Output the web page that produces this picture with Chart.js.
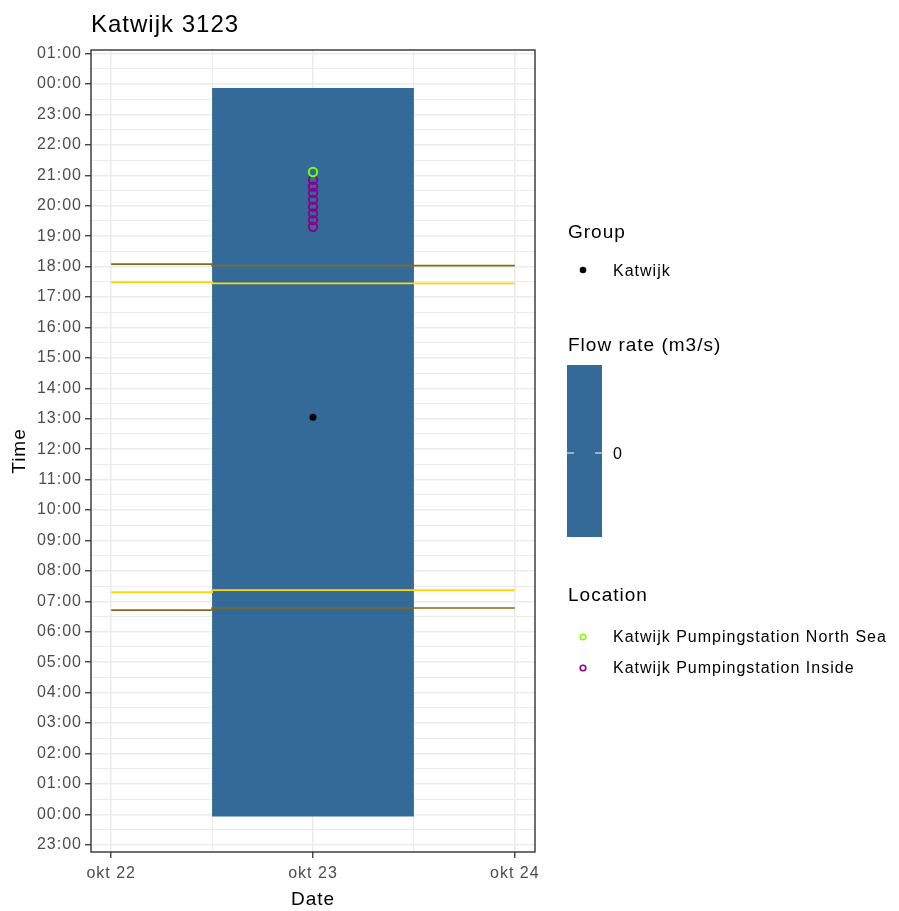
<!DOCTYPE html>
<html>
<head>
<meta charset="utf-8">
<title>Katwijk 3123</title>
<script src="https://cdn.jsdelivr.net/npm/chart.js@4/dist/chart.umd.min.js"></script>
<style>
  body { margin: 0; background: #fff; }
  canvas { display: block; }
</style>
</head>
<body>
<canvas id="timeChart" width="899" height="911"></canvas>
<script>
// day of month (okt) on x, hour of day on y
const xTickDays = [22, 23, 24];
const xTickLabels = ['okt 22', 'okt 23', 'okt 24'];
const yTickLabels = ['23:00', '00:00', '01:00', '02:00', '03:00', '04:00', '05:00', '06:00', '07:00',
    '08:00', '09:00', '10:00', '11:00', '12:00', '13:00', '14:00', '15:00', '16:00', '17:00',
    '18:00', '19:00', '20:00', '21:00', '22:00', '23:00', '00:00', '01:00'];

// flow rate tile (one day, okt 23)
const tileDay = [22.5, 23.5];
const tileHours = [-0.07, 23.87];
const flowRate = [0];

// twilight / sun lines per day
const lineDays = [22, 23, 24];
const dusk = [18.08, 18.03, 18.03];
const sunset = [17.49, 17.45, 17.45];
const sunrise = [7.30, 7.37, 7.37];
const dawn = [6.71, 6.78, 6.78];

// measurement points
const groupNames = ['Katwijk'];
const groupDays = [23];
const groupHours = [13.05];

const locationNames = ['Katwijk Pumpingstation North Sea', 'Katwijk Pumpingstation Inside'];
const locationColors = ['#7FFF00', '#8B008B'];
const northSeaDays = [23];
const northSeaHours = [21.11];
const insideDays = [23, 23, 23, 23, 23, 23, 23, 23];
const insideHours = [20.85, 20.63, 20.42, 20.20, 19.97, 19.75, 19.53, 19.31];

const FONT = "'Liberation Sans', Arial, sans-serif";
const TILE_COLOR = '#336A98';

function points(xs, ys) {
    return xs.map(function (x, i) { return { x: x, y: ys[i] }; });
}

const isMajor = function (ctx) {
    return ctx.tick && Number.isInteger(ctx.tick.value);
};

document.addEventListener('DOMContentLoaded', function () {
    const canvas = document.getElementById('timeChart');
    if (!canvas) return;

    const panelPlugin = {
        id: 'panelStuff',
        beforeDraw(chart) {
            chart.ctx.letterSpacing = '1px';
        },
        afterDraw(chart) {
            const ctx = chart.ctx;
            const a = chart.chartArea;
            ctx.save();
            ctx.strokeStyle = '#333333';
            ctx.lineWidth = 1.4;
            ctx.strokeRect(a.left, a.top, a.right - a.left, a.bottom - a.top);

            // side legends
            ctx.letterSpacing = '1px';
            ctx.textAlign = 'left';
            ctx.textBaseline = 'middle';
            ctx.fillStyle = '#000';
            ctx.font = '19px ' + FONT;
            ctx.fillText('Group', 568, 233);
            ctx.fillText('Flow rate (m3/s)', 568, 346);
            ctx.fillText('Location', 568, 596);

            ctx.font = '16px ' + FONT;
            groupNames.forEach(function (name, i) {
                const y = 270 + i * 30;
                ctx.beginPath();
                ctx.arc(583, y, 3.3, 0, Math.PI * 2);
                ctx.fillStyle = '#000';
                ctx.fill();
                ctx.fillText(name, 613, y + 2);
            });

            // colour bar
            ctx.fillStyle = TILE_COLOR;
            ctx.fillRect(567, 365, 35, 172);
            ctx.strokeStyle = '#ffffff';
            ctx.lineWidth = 1.2;
            ctx.beginPath();
            ctx.moveTo(567, 453); ctx.lineTo(574, 453);
            ctx.moveTo(595, 453); ctx.lineTo(602, 453);
            ctx.stroke();
            ctx.fillStyle = '#000';
            ctx.fillText(String(flowRate[0]), 613, 455);

            locationNames.forEach(function (name, i) {
                const y = 637 + i * 31;
                ctx.beginPath();
                ctx.arc(583, y, 2.8, 0, Math.PI * 2);
                ctx.strokeStyle = locationColors[i];
                ctx.lineWidth = 1.6;
                ctx.stroke();
                ctx.fillStyle = '#000';
                ctx.fillText(name, 613, y + 1);
            });
            ctx.restore();
        }
    };

    new Chart(canvas.getContext('2d'), {
        type: 'line',
        data: {
            datasets: [
                {
                    label: 'tile top',
                    data: points(tileDay, [tileHours[1], tileHours[1]]),
                    backgroundColor: TILE_COLOR,
                    borderWidth: 0,
                    pointRadius: 0,
                    fill: '+1',
                    order: 5
                },
                {
                    label: 'tile bottom',
                    data: points(tileDay, [tileHours[0], tileHours[0]]),
                    borderWidth: 0,
                    pointRadius: 0,
                    fill: false,
                    order: 5
                },
                {
                    label: 'dusk',
                    data: points(lineDays, dusk),
                    borderColor: '#8B6914',
                    borderWidth: 1.7,
                    stepped: 'middle',
                    pointRadius: 0,
                    fill: false,
                    order: 3
                },
                {
                    label: 'sunset',
                    data: points(lineDays, sunset),
                    borderColor: '#FFD700',
                    borderWidth: 1.7,
                    stepped: 'middle',
                    pointRadius: 0,
                    fill: false,
                    order: 3
                },
                {
                    label: 'sunrise',
                    data: points(lineDays, sunrise),
                    borderColor: '#FFD700',
                    borderWidth: 1.7,
                    stepped: 'middle',
                    pointRadius: 0,
                    fill: false,
                    order: 3
                },
                {
                    label: 'dawn',
                    data: points(lineDays, dawn),
                    borderColor: '#8B6914',
                    borderWidth: 1.7,
                    stepped: 'middle',
                    pointRadius: 0,
                    fill: false,
                    order: 3
                },
                {
                    label: groupNames[0],
                    data: points(groupDays, groupHours),
                    showLine: false,
                    pointRadius: 3.5,
                    pointBackgroundColor: '#000',
                    pointBorderWidth: 0,
                    order: 0
                },
                {
                    label: locationNames[0],
                    data: points(northSeaDays, northSeaHours),
                    showLine: false,
                    pointRadius: 4.2,
                    pointBackgroundColor: 'rgba(0,0,0,0)',
                    pointBorderColor: locationColors[0],
                    pointBorderWidth: 2,
                    order: 0
                },
                {
                    label: locationNames[1],
                    data: points(insideDays, insideHours),
                    showLine: false,
                    pointRadius: 4.2,
                    pointBackgroundColor: 'rgba(0,0,0,0)',
                    pointBorderColor: locationColors[1],
                    pointBorderWidth: 2,
                    order: 1
                }
            ]
        },
        options: {
            responsive: false,
            animation: false,
            devicePixelRatio: 1,
            layout: { padding: { left: 0, top: 0, right: 364, bottom: 0 } },
            plugins: {
                legend: { display: false },
                tooltip: { enabled: false },
                title: {
                    display: true,
                    text: 'Katwijk 3123',
                    align: 'start',
                    fullSize: false,
                    color: '#000',
                    font: { family: FONT, size: 24, weight: 'normal' },
                    padding: { top: 10.6, bottom: 10.6 }
                }
            },
            scales: {
                x: {
                    type: 'linear',
                    min: 21.9,
                    max: 24.1,
                    afterFit: function (scale) { scale.height = 59; },
                    border: { display: false },
                    grid: {
                        color: '#EBEBEB',
                        lineWidth: function (ctx) { return isMajor(ctx) ? 1.5 : 1; },
                        tickColor: function (ctx) { return isMajor(ctx) ? '#333333' : 'rgba(0,0,0,0)'; },
                        tickWidth: 1.3,
                        tickLength: 6
                    },
                    ticks: {
                        stepSize: 0.5,
                        includeBounds: false,
                        autoSkip: false,
                        maxRotation: 0,
                        padding: 5.5,
                        color: '#4D4D4D',
                        font: { family: FONT, size: 16 },
                        callback: function (v) {
                            const i = xTickDays.indexOf(v);
                            return i >= 0 ? xTickLabels[i] : '';
                        }
                    },
                    title: {
                        display: true,
                        text: 'Date',
                        color: '#000',
                        font: { family: FONT, size: 19 },
                        padding: { top: 0, bottom: 0 }
                    }
                },
                y: {
                    type: 'linear',
                    min: -1.24,
                    max: 25.12,
                    afterFit: function (scale) { scale.width = 91; },
                    border: { display: false },
                    grid: {
                        color: '#EBEBEB',
                        lineWidth: function (ctx) { return isMajor(ctx) ? 1.5 : 1; },
                        tickColor: function (ctx) { return isMajor(ctx) ? '#333333' : 'rgba(0,0,0,0)'; },
                        tickWidth: 1.3,
                        tickLength: 6
                    },
                    ticks: {
                        stepSize: 0.5,
                        includeBounds: false,
                        autoSkip: false,
                        padding: 3,
                        color: '#4D4D4D',
                        font: { family: FONT, size: 16 },
                        callback: function (v) {
                            return Number.isInteger(v) ? yTickLabels[v + 1] : '';
                        }
                    },
                    title: {
                        display: true,
                        text: 'Time',
                        color: '#000',
                        font: { family: FONT, size: 19 },
                        padding: { top: 8, bottom: 0 }
                    }
                }
            }
        },
        plugins: [panelPlugin]
    });
});
</script>
</body>
</html>
